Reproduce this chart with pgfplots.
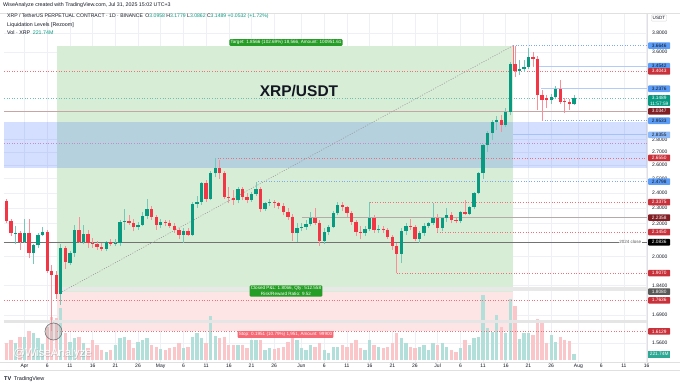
\documentclass[border=0pt]{standalone}
\usepackage{fontspec}
\setmainfont{Liberation Sans}
\usepackage{pgfplots}
\usepackage{pgfplotstable}
\pgfplotsset{compat=1.18}

\definecolor{upc}{HTML}{089981}
\definecolor{dnc}{HTML}{F23645}
\definecolor{volup}{HTML}{B2DFDA}
\definecolor{voldn}{HTML}{FAC6CA}
\definecolor{profit}{HTML}{D8EDD6}
\definecolor{loss}{HTML}{FDE4E5}
\definecolor{zoneblue}{HTML}{2962FF}
\definecolor{lvlred}{HTML}{F0707A}
\definecolor{lvlblue}{HTML}{7FA8F2}
\definecolor{labblue}{HTML}{5B9CF6}
\definecolor{labred}{HTML}{C9313A}
\definecolor{labdred}{HTML}{801E24}
\definecolor{gridc}{HTML}{EEF0F5}
\definecolor{txt}{HTML}{131722}
\definecolor{brownl}{HTML}{C8A5A5}
\definecolor{grayl}{HTML}{B3ABA8}

% d = days since 1 Apr 2025; O H L C in USDT; V in millions XRP
\pgfplotstableread{
d O H L C V
-4 2.346 2.360 2.200 2.213 629
-3 2.213 2.225 2.120 2.140 740
-2 2.140 2.180 2.070 2.142 629
-1 2.142 2.150 2.040 2.087 851
0 2.087 2.230 2.080 2.140 851
1 2.140 2.230 1.990 2.020 1073
2 2.020 2.070 1.960 2.065 999
3 2.065 2.140 2.050 2.130 814
4 2.130 2.175 2.120 2.143 592
5 2.143 2.160 1.910 1.920 1221
6 1.920 1.950 1.613 1.898 1591
7 1.898 1.920 1.770 1.795 1554
8 1.795 2.070 1.740 2.050 1924
9 2.050 2.060 1.930 1.970 999
10 1.965 2.030 1.950 2.020 666
11 2.020 2.190 2.000 2.158 814
12 2.158 2.240 2.080 2.085 851
13 2.085 2.190 2.070 2.135 629
14 2.135 2.160 2.050 2.080 444
15 2.080 2.110 2.050 2.070 740
16 2.070 2.090 2.040 2.055 555
17 2.055 2.080 2.030 2.045 370
18 2.045 2.090 2.030 2.085 296
19 2.085 2.100 2.060 2.075 370
20 2.075 2.100 2.060 2.080 555
21 2.080 2.220 2.060 2.210 814
22 2.210 2.290 2.160 2.215 851
23 2.215 2.250 2.190 2.200 740
24 2.200 2.230 2.150 2.175 444
25 2.175 2.210 2.160 2.190 666
26 2.190 2.270 2.180 2.245 740
27 2.245 2.360 2.230 2.290 814
28 2.290 2.310 2.220 2.240 555
29 2.240 2.250 2.160 2.190 481
30 2.190 2.230 2.170 2.210 407
31 2.210 2.220 2.180 2.205 370
32 2.205 2.220 2.170 2.185 444
33 2.185 2.200 2.140 2.155 481
34 2.155 2.170 2.100 2.128 629
35 2.128 2.170 2.080 2.153 444
36 2.153 2.170 2.120 2.128 481
37 2.128 2.340 2.120 2.325 851
38 2.325 2.380 2.300 2.340 999
39 2.340 2.480 2.320 2.470 814
40 2.470 2.490 2.340 2.360 629
41 2.360 2.560 2.350 2.540 1628
42 2.540 2.655 2.510 2.580 888
43 2.580 2.640 2.500 2.540 814
44 2.540 2.560 2.360 2.375 851
45 2.375 2.440 2.330 2.365 555
46 2.365 2.420 2.320 2.350 555
47 2.350 2.440 2.330 2.428 555
48 2.428 2.440 2.350 2.375 555
49 2.375 2.400 2.330 2.352 444
50 2.352 2.410 2.340 2.393 740
51 2.393 2.480 2.380 2.428 740
52 2.428 2.440 2.270 2.291 740
53 2.291 2.340 2.280 2.330 370
54 2.330 2.360 2.310 2.340 444
55 2.340 2.350 2.300 2.335 407
56 2.335 2.340 2.290 2.310 444
57 2.310 2.330 2.250 2.271 481
58 2.271 2.300 2.220 2.243 666
59 2.243 2.260 2.090 2.138 925
60 2.138 2.200 2.087 2.173 740
61 2.173 2.200 2.150 2.179 444
62 2.179 2.220 2.160 2.194 370
63 2.194 2.270 2.180 2.236 555
64 2.236 2.300 2.190 2.204 481
65 2.204 2.220 2.060 2.093 629
66 2.093 2.170 2.070 2.148 370
67 2.148 2.190 2.130 2.179 259
68 2.179 2.280 2.170 2.265 481
69 2.265 2.340 2.250 2.319 481
70 2.319 2.340 2.280 2.304 555
71 2.304 2.310 2.240 2.265 481
72 2.265 2.280 2.190 2.210 629
73 2.210 2.220 2.120 2.148 740
74 2.148 2.180 2.100 2.138 444
75 2.138 2.180 2.120 2.163 370
76 2.163 2.3375 2.150 2.236 740
77 2.236 2.250 2.140 2.158 555
78 2.158 2.190 2.140 2.165 481
79 2.165 2.180 2.140 2.160 444
80 2.160 2.170 2.100 2.118 481
81 2.118 2.130 2.040 2.061 629
82 2.061 2.080 1.907 2.015 999
83 2.015 2.170 1.963 2.154 814
84 2.154 2.200 2.130 2.185 629
85 2.185 2.230 2.160 2.179 481
86 2.179 2.190 2.090 2.103 444
87 2.103 2.150 2.080 2.138 481
88 2.138 2.200 2.120 2.185 555
89 2.185 2.210 2.170 2.200 370
90 2.200 2.330 2.190 2.236 629
91 2.236 2.260 2.145 2.169 555
92 2.169 2.240 2.150 2.232 629
93 2.232 2.300 2.210 2.254 481
94 2.254 2.270 2.200 2.221 370
95 2.221 2.240 2.200 2.215 296
96 2.215 2.280 2.200 2.271 444
97 2.271 2.352 2.250 2.260 740
98 2.260 2.310 2.250 2.304 555
99 2.304 2.410 2.290 2.402 814
100 2.402 2.550 2.390 2.539 851
101 2.539 2.760 2.500 2.754 2405
102 2.754 2.870 2.700 2.853 1184
103 2.853 2.960 2.795 2.943 1036
104 2.943 2.990 2.880 2.960 1665
105 2.960 3.000 2.860 2.920 1221
106 2.920 3.060 2.900 3.029 999
107 3.029 3.500 3.000 3.476 2257
108 3.476 3.6646 3.350 3.410 1998
109 3.410 3.520 3.370 3.427 777
110 3.427 3.520 3.400 3.450 999
111 3.450 3.640 3.430 3.544 999
112 3.544 3.600 3.450 3.530 925
113 3.530 3.560 3.050 3.180 1517
114 3.180 3.230 2.9533 3.135 1480
115 3.150 3.180 3.060 3.135 629
116 3.135 3.190 3.100 3.159 925
117 3.159 3.260 3.140 3.233 666
118 3.233 3.320 3.100 3.119 851
119 3.126 3.150 3.020 3.114 740
120 3.114 3.140 3.050 3.096 703
121 3.0958 3.1779 3.0862 3.1489 221.74
}\candles

\pgfplotstablegetrowsof{\candles}
\pgfmathtruncatemacro{\lastrow}{\pgfplotsretval-1}

\def\xlo{-4.515}
\def\xhi{137.1}
\def\pmin{1.4772}
\def\pmax{4.0246}

\pgfplotsset{
  base/.style={scale only axis, width=643pt, height=349pt,
    at={(4pt,24pt)}, anchor=south west, xmin=\xlo, xmax=\xhi},
  lvl/.style={forget plot, line width=0.7pt, dash pattern=on 1pt off 1.6pt},
}
\newcommand{\lvline}[4]{\addplot[#4] coordinates {(#1,#3) (#2,#3)};}
\newcommand{\plab}[3]{\node[anchor=west, xshift=1pt, fill=#2, text=#3,
   font=\fontsize{4.8}{5}\selectfont, minimum width=22pt, minimum height=6.6pt,
   inner sep=0pt, rounded corners=0.8pt] at (axis cs:\xhi,#1) {#1};}

\begin{document}
\begin{tikzpicture}[x=1pt,y=1pt]
\fill[white] (0,0) rectangle (680,386);

% ---------- axis A: grid, ticks, zones ----------
\begin{axis}[base, ymode=log, ymin=\pmin, ymax=\pmax,
  xtick={0,5,10,15,20,25,30,35,40,45,50,55,61,66,71,76,81,86,91,96,101,106,111,116,122,127,132,137},
  xticklabels={Apr,6,11,16,21,26,May,6,11,16,21,26,Jun,6,11,16,21,26,Jul,6,11,16,21,26,Aug,6,11,16},
  ytick={1.56,1.69,1.84,2.0,2.2,2.3,2.4,2.5,2.6,2.7,2.8,3.6,3.8},
  yticklabels={1.5600,1.6900,1.8400,2.0000,2.2000,2.3000,2.4000,2.5000,2.6000,2.7000,2.8000,3.6000,3.8000},
  yticklabel pos=right,
  grid=major, major grid style={draw=gridc, line width=0.6pt},
  axis line style={draw=none}, major tick length=0pt,
  tick label style={font=\fontsize{5}{6}\selectfont, text=txt},
  yticklabel style={anchor=west, inner sep=0pt, xshift=5pt},
  xticklabel style={inner sep=1.5pt},
]
\addplot[forget plot, fill=profit, draw=none] coordinates {(7.2,1.808) (107.6,1.808) (107.6,3.6646) (7.2,3.6646)};
\addplot[forget plot, fill=loss, draw=none] coordinates {(7.2,1.6129) (107.6,1.6129) (107.6,1.808) (7.2,1.808)};
\addplot[forget plot, fill=zoneblue, fill opacity=0.2, draw=none] coordinates {(\xlo,2.575) (\xhi,2.575) (\xhi,2.94) (\xlo,2.94)};
\end{axis}

% ---------- axis B: volume ----------
\begin{axis}[base, ymin=-74, ymax=12839, hide axis, clip mode=individual]
\pgfplotsforeachungrouped \i in {0,...,\lastrow}{%
  \pgfplotstablegetelem{\i}{d}\of\candles \edef\cd{\pgfplotsretval}%
  \pgfplotstablegetelem{\i}{O}\of\candles \edef\co{\pgfplotsretval}%
  \pgfplotstablegetelem{\i}{C}\of\candles \edef\cc{\pgfplotsretval}%
  \pgfplotstablegetelem{\i}{V}\of\candles \edef\cv{\pgfplotsretval}%
  \pgfmathtruncatemacro{\isup}{\cc>=\co ? 1 : 0}%
  \ifnum\isup=1 \def\vcol{volup}\else\def\vcol{voldn}\fi
  \edef\tmp{\noexpand\addplot[forget plot, ybar, bar width=3.3pt, bar shift=0pt, fill=\vcol, draw=none] coordinates {(\cd,\cv)};}%
  \tmp
}
\node[anchor=west, xshift=1pt, fill=upc!85, text=white, font=\fontsize{4.8}{5}\selectfont,
   minimum width=22pt, minimum height=7pt, inner sep=0pt] at (axis cs:\xhi,221.74) {221.74M};
\end{axis}

% ---------- axis C: levels, candles, labels ----------
\begin{axis}[base, ymode=log, ymin=\pmin, ymax=\pmax, hide axis, clip mode=individual]
% level lines
\lvline{\xlo}{\xhi}{1.66}{forget plot, draw=black!10, line width=2.5pt}
\lvline{7.2}{\xhi}{1.822}{forget plot, draw=black!9, line width=4pt}
\lvline{\xlo}{\xhi}{2.0836}{forget plot, draw=black!55, line width=1.3pt}
\lvline{61.1}{\xhi}{2.2358}{forget plot, draw=grayl, line width=1.6pt}
\lvline{\xlo}{\xhi}{3.0347}{forget plot, draw=brownl, line width=1.5pt}
\lvline{107.6}{\xhi}{2.8355}{forget plot, draw=lvlblue!70, line width=1pt}
\lvline{112.9}{\xhi}{3.4542}{forget plot, draw=lvlblue!60, line width=1.4pt}
\lvline{113.8}{\xhi}{3.2376}{forget plot, draw=lvlblue!60, line width=1.4pt}
\lvline{\xlo}{\xhi}{3.4043}{lvl, draw=lvlred}
\lvline{\xlo}{\xhi}{2.77}{lvl, draw=violet!45}
\lvline{\xlo}{\xhi}{1.7636}{lvl, draw=lvlred}
\lvline{7.2}{\xhi}{1.6129}{lvl, draw=lvlred}
\lvline{42}{\xhi}{2.655}{lvl, draw=lvlred}
\lvline{76}{\xhi}{2.3375}{lvl, draw=lvlred}
\lvline{90.9}{\xhi}{2.145}{lvl, draw=lvlred}
\lvline{82}{\xhi}{1.907}{lvl, draw=lvlred}
\lvline{107.6}{\xhi}{3.6646}{lvl, draw=lvlblue}
\lvline{114}{\xhi}{2.9533}{lvl, draw=lvlblue}
\lvline{51.5}{\xhi}{2.4798}{lvl, draw=lvlblue}
\lvline{\xlo}{\xhi}{3.1489}{lvl, draw=upc!60}
% position diagonal and exit marker
\addplot[forget plot, draw=black!40, line width=0.6pt, dash pattern=on 1pt off 1.5pt] coordinates {(8.3,1.808) (107.6,3.6646)};
\addplot[forget plot, draw=dnc!70, line width=0.7pt] coordinates {(107.6,3.6646) (107.6,3.45)};
% candles
\pgfplotsforeachungrouped \i in {0,...,\lastrow}{%
  \pgfplotstablegetelem{\i}{d}\of\candles \edef\cd{\pgfplotsretval}%
  \pgfplotstablegetelem{\i}{O}\of\candles \edef\co{\pgfplotsretval}%
  \pgfplotstablegetelem{\i}{H}\of\candles \edef\ch{\pgfplotsretval}%
  \pgfplotstablegetelem{\i}{L}\of\candles \edef\cl{\pgfplotsretval}%
  \pgfplotstablegetelem{\i}{C}\of\candles \edef\cc{\pgfplotsretval}%
  \pgfmathtruncatemacro{\isup}{\cc>=\co ? 1 : 0}%
  \ifnum\isup=1 \def\ccol{upc}\else\def\ccol{dnc}\fi
  \edef\tmp{\noexpand\addplot[forget plot, draw=\ccol!55, line width=0.7pt] coordinates {(\cd,\cl) (\cd,\ch)};%
    \noexpand\addplot[forget plot, draw=\ccol, line width=3.3pt, line cap=butt] coordinates {(\cd,\co) (\cd,\cc)};}%
  \tmp
}
% 2024 close tag
\node[fill=white, text=black!65, font=\fontsize{4.5}{5}\selectfont, inner sep=0.8pt] at (axis cs:133.4,2.0836) {2024 close};
% price scale tags
\plab{3.6646}{labblue}{txt}
\plab{3.4542}{labblue}{txt}
\plab{3.4043}{labred}{white}
\plab{3.2376}{labblue}{txt}
\plab{3.0347}{labdred}{white}
\plab{2.9533}{labblue}{txt}
\plab{2.8355}{labblue!70}{txt}
\plab{2.6550}{labred}{white}
\plab{2.4798}{labblue}{txt}
\plab{2.3375}{labred}{white}
\plab{2.2358}{labdred}{white}
\plab{2.1450}{labred}{white}
\plab{2.0836}{black}{white}
\plab{1.9070}{labred}{white}
\plab{1.8080}{black!65}{white}
\plab{1.7636}{labred}{white}
\plab{1.6129}{labred}{white}
\node[anchor=north west, xshift=1pt, yshift=3.6pt, fill=upc, text=white, font=\fontsize{4.8}{5.8}\selectfont,
   minimum width=22pt, inner sep=0.8pt, align=center, rounded corners=0.8pt] at (axis cs:\xhi,3.1489) {3.1489\\11:57:59};
\end{axis}

% ---------- pane borders ----------
\draw[black!12, line width=0.5pt] (0,373) -- (680,373);
\draw[black!12, line width=0.5pt] (647,24) -- (647,373);
\draw[black!12, line width=0.5pt] (0,24) -- (680,24);
\draw[black!12, line width=0.5pt] (0,16) -- (680,16);

% ---------- annotations ----------
\node[font=\fontsize{15.5}{18}\selectfont\bfseries, text=txt] at (299,294.5) {XRP/USDT};
\node[fill=green!55!black!85, text=white, font=\fontsize{4.6}{5}\selectfont, inner sep=1.2pt, rounded corners=1pt]
  at (286,343.5) {Target: 1.8566 (102.69\%) 18,566, Amount: 100951.61};
\node[fill=green!55!black!85, text=white, font=\fontsize{4.6}{5.4}\selectfont, inner sep=1.2pt, rounded corners=1pt, align=center]
  at (286,95) {Closed P\&L: 1.8066, Qty: 512.558\\Risk/Reward Ratio: 9.52};
\node[fill=dnc!75, text=white, font=\fontsize{4.6}{5}\selectfont, inner sep=1.2pt, rounded corners=1pt]
  at (285.5,51.5) {Stop: 0.1951 (10.79\%) 1,951, Amount: 99900};
\draw[black!55, line width=0.6pt, fill=black!30, fill opacity=0.35] (53.5,54.5) circle (8.5);

% watermark
\node[anchor=west, text=black!40, opacity=0.55, font=\fontsize{11.5}{12}\selectfont] at (10.5,31.5) {@WiseAnalyze};
\node[anchor=west, text=white, opacity=0.95, font=\fontsize{11.5}{12}\selectfont] at (10,32) {@WiseAnalyze};

% header
\node[anchor=west, inner sep=0, text=txt, font=\fontsize{5.3}{6}\selectfont] at (3,381) {WiseAnalyze created with TradingView.com, Jul 31, 2025 15:02 UTC+3};
\node[anchor=west, inner sep=0, text=txt, font=\fontsize{5.1}{6}\selectfont] at (7,369.5)
  {XRP / TetherUS PERPETUAL CONTRACT · 1D · BINANCE\enspace O\textcolor{upc}{3.0958} H\textcolor{upc}{3.1779} L\textcolor{upc}{3.0862} C\textcolor{upc}{3.1489} \textcolor{upc}{+0.0532 (+1.72\%)}};
\node[anchor=west, inner sep=0, text=txt, font=\fontsize{5.3}{6}\selectfont] at (7,361) {Liquidation Levels [Rezoom]};
\node[anchor=west, inner sep=0, text=txt, font=\fontsize{5.3}{6}\selectfont] at (7,353.5) {Vol · XRP\enspace\textcolor{upc}{221.74M}};
\node[draw=black!15, fill=white, rounded corners=1pt, text=txt, font=\fontsize{4.6}{5}\selectfont, inner sep=1.5pt] at (659,368) {USDT};
% footer
\node[anchor=west, inner sep=0, text=txt, font=\fontsize{5.5}{6}\selectfont] at (4,7) {\textbf{TV}\enspace TradingView};

\pgfresetboundingbox
\path (0,0) rectangle (680,386);
\end{tikzpicture}
\end{document}
